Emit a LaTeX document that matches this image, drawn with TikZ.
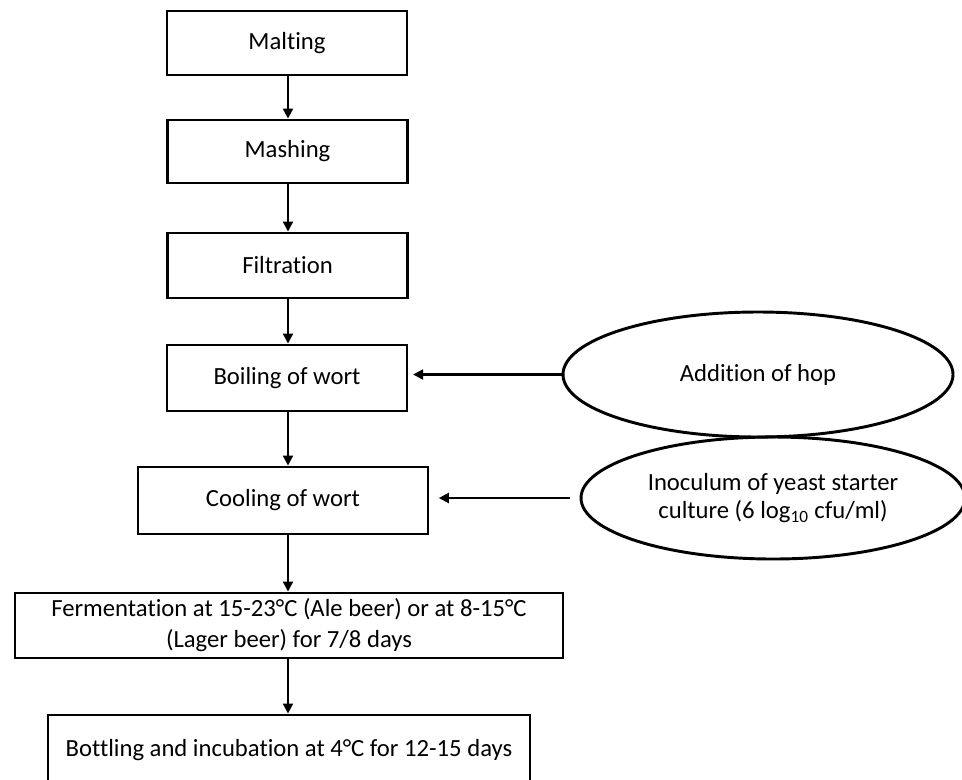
\documentclass[tikz,border=0pt]{standalone}
\usepackage{fontspec}
\setmainfont[Ligatures={NoCommon}]{Carlito}
\usetikzlibrary{shapes.geometric,arrows.meta}
\begin{document}
\begin{tikzpicture}[x=0.75pt,y=-0.75pt,
  box/.style={draw, line width=2.2pt, rectangle, inner sep=0pt, align=center,
    font=\fontsize{18.5}{23.25}\selectfont},
  oval/.style={draw, line width=2.2pt, ellipse, inner sep=0pt, align=center,
    font=\fontsize{18.5}{21.5}\selectfont},
  arr/.style={line width=1.6pt, -{Triangle[length=7.5pt,width=7.5pt]}}]
\useasboundingbox (0,0) rectangle (962,779);
\clip (0,0) rectangle (962,779);
\node[box, minimum width=180pt, minimum height=48pt] (malt) at (287,43) {Malting};
\node[box, minimum width=180pt, minimum height=47.25pt] (mash) at (287.5,151.5) {Mashing};
\node[box, minimum width=180pt, minimum height=48.75pt] (filt) at (287.5,265.5) {Filtration};
\node[box, minimum width=180pt, minimum height=49.5pt] (boil) at (287,378) {Boiling of wort};
\node[box, minimum width=217.5pt, minimum height=50.25pt] (cool) at (283,500.5) {Cooling of wort};
\node[box, minimum width=411pt, minimum height=48.75pt] (ferm) at (289,625.5) {Fermentation at 15-23°C (Ale beer) or at 8-15°C\\(Lager beer) for 7/8 days};
\node[box, minimum width=361.5pt, minimum height=52.5pt] (bott) at (289,750) {Bottling and incubation at 4°C for 12-15 days};
\node[oval, minimum width=292.5pt, minimum height=93.75pt] (hop) at (758,374.5) {Addition of hop};
\node[oval, minimum width=288pt, minimum height=91.5pt] (ino) at (773,498) {Inoculum of yeast starter\\culture (6 log\textsubscript{10} cfu/ml)};
\coordinate (ax) at (288,0);
\draw[arr] (malt.south -| ax) -- (mash.north -| ax);
\draw[arr] (mash.south -| ax) -- (filt.north -| ax);
\draw[arr] (filt.south -| ax) -- (boil.north -| ax);
\draw[arr] (boil.south -| ax) -- (cool.north -| ax);
\draw[arr] (cool.south -| ax) -- (ferm.north -| ax);
\draw[arr] (ferm.south -| ax) -- (bott.north -| ax);
\draw[arr, shorten >=3.5pt] (hop.west) -- (boil.east |- hop.west);
\draw[arr, shorten <=7pt, shorten >=7pt] (ino.west) -- (cool.east |- ino.west);
\end{tikzpicture}
\end{document}
